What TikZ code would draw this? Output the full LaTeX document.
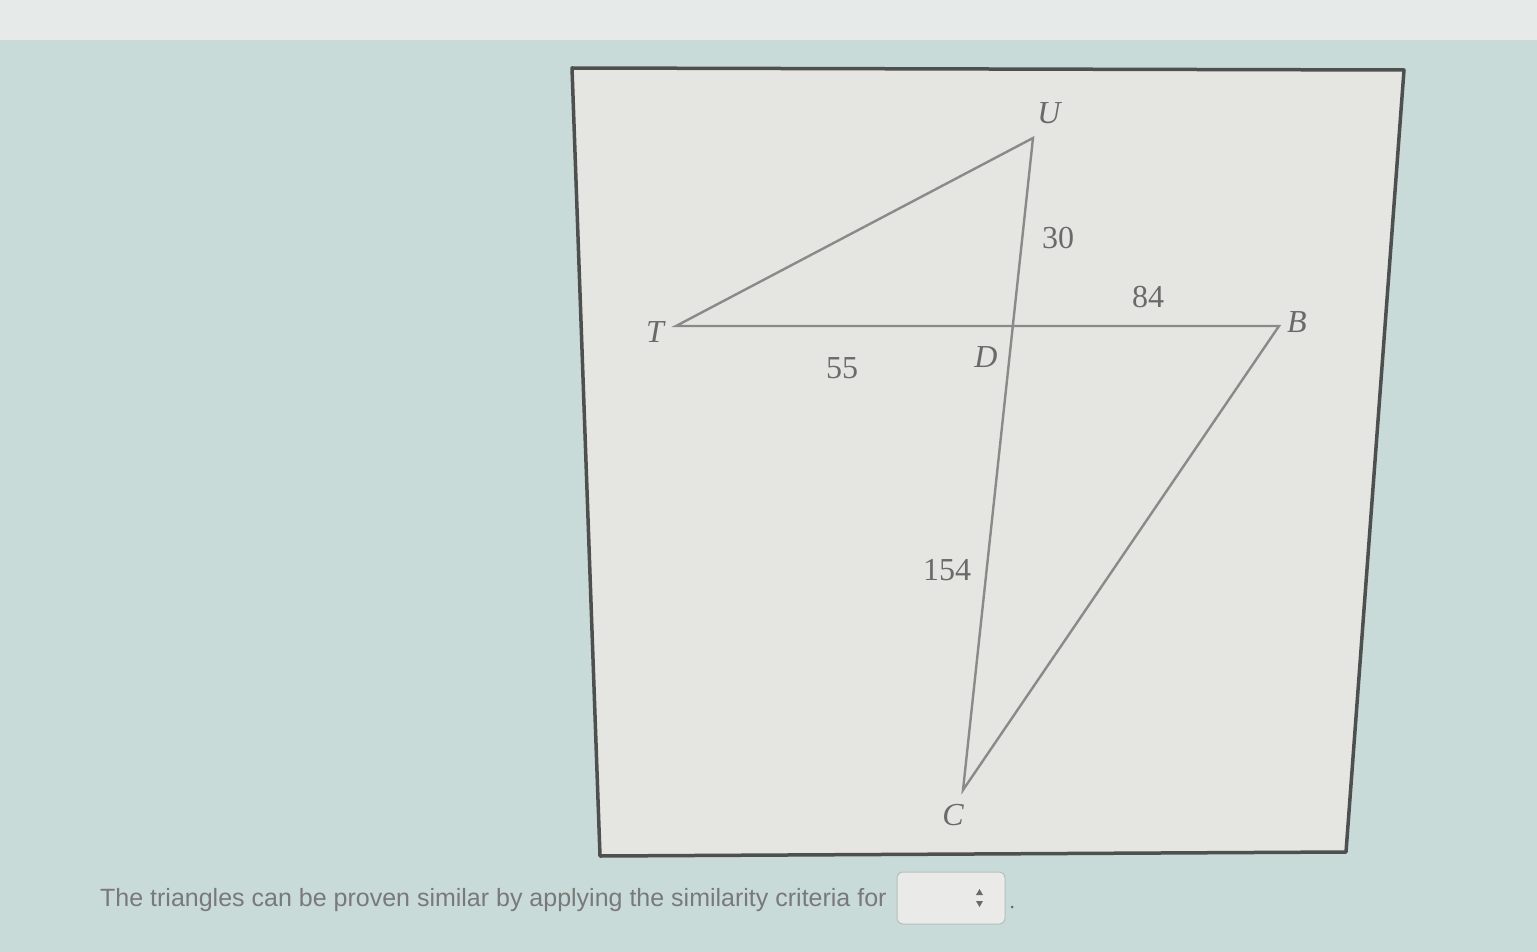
\documentclass[tikz,border=0pt]{standalone}
\usepackage{fontspec}
\setmainfont{Liberation Serif}
\setsansfont{Liberation Sans}
\definecolor{wall}{HTML}{C9DBD8}
\definecolor{strip}{HTML}{E6EAE8}
\definecolor{paper}{HTML}{E5E6E2}
\definecolor{ink}{HTML}{8A8A88}
\definecolor{frameink}{HTML}{4E4F4F}
\definecolor{labelink}{HTML}{6A6A6A}
\tikzset{
  pt/.style={font=\fontsize{32}{36}\selectfont\itshape, text=labelink, inner sep=0pt},
  len/.style={font=\fontsize{32}{36}\selectfont, text=labelink, inner sep=0pt},
  side/.style={draw=ink, line width=2.4pt},
}
\begin{document}
\begin{tikzpicture}[x=1pt,y=-1pt]
\useasboundingbox (0,0) rectangle (1537,952);
% screen background
\fill [wall] (0,0) rectangle (1537,952);
\fill [strip] (0,0) rectangle (1537,40);
% the figure frame
\filldraw [fill=paper, draw=frameink, line width=3.5pt, line join=round]
  (572,68) -- (1404,70) -- (1346,852) -- (600,856) -- cycle;
% vertices
\coordinate (U) at (1033,138);
\coordinate (T) at (676,326);
\coordinate (B) at (1279,326);
\coordinate (C) at (963,790);
\coordinate (D) at (1015,326);
\draw [side] (T) -- (U) -- (C) -- (B) -- cycle;
% letters
\node [pt] (lU) at (1049,113) {U};
\node [pt] (lT) at (655,332) {T};
\node [pt] (lB) at (1297,322) {B};
\node [pt] (lD) at (986,357) {D};
\node [pt] (lC) at (953,815) {C};
% lengths
\node [len] (l30) at (1058,238) {30};
\node [len] (l84) at (1148,297) {84};
\node [len] (l55) at (842,368) {55};
\node [len] (l154) at (947,570) {154};
% question line
\node [font=\sffamily\fontsize{25}{29}\selectfont, text=labelink!90, anchor=west, inner sep=0pt] (ask) at (100,900)
  {The triangles can be proven similar by applying the similarity criteria for};
\filldraw [fill=paper!80!white, draw=wall!70!gray, line width=1pt, rounded corners=6pt] (897,872) rectangle (1005,924);
\fill [labelink] (976,895) -- (983,895) -- (979.5,889) -- cycle;
\fill [labelink] (976,901) -- (983,901) -- (979.5,907) -- cycle;
\fill [labelink] (1012,907) circle (1.5);
\end{tikzpicture}
\end{document}
